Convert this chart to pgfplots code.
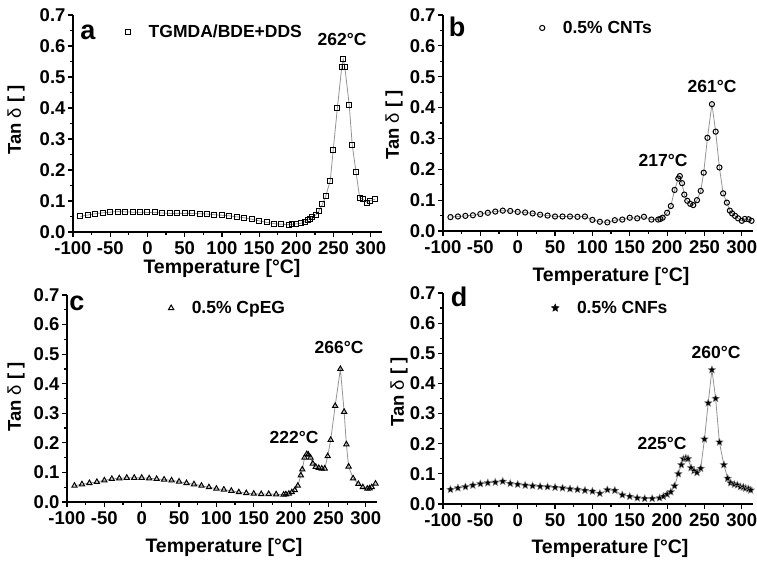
\documentclass[border=0pt]{standalone}
\usepackage{pgfplots}
\pgfplotsset{compat=1.18}
\usepackage{fontspec}
\setmainfont{Liberation Sans}
\usetikzlibrary{plotmarks}
\pgfdeclareplotmark{fstar}{%
  \pgfpathmoveto{\pgfpointpolar{90}{\pgfplotmarksize}}%
  \pgfpathlineto{\pgfpointpolar{126}{0.45\pgfplotmarksize}}%
  \pgfpathlineto{\pgfpointpolar{162}{\pgfplotmarksize}}%
  \pgfpathlineto{\pgfpointpolar{198}{0.45\pgfplotmarksize}}%
  \pgfpathlineto{\pgfpointpolar{234}{\pgfplotmarksize}}%
  \pgfpathlineto{\pgfpointpolar{270}{0.45\pgfplotmarksize}}%
  \pgfpathlineto{\pgfpointpolar{306}{\pgfplotmarksize}}%
  \pgfpathlineto{\pgfpointpolar{342}{0.45\pgfplotmarksize}}%
  \pgfpathlineto{\pgfpointpolar{18}{\pgfplotmarksize}}%
  \pgfpathlineto{\pgfpointpolar{54}{0.45\pgfplotmarksize}}%
  \pgfpathclose\pgfusepathqfillstroke}
\newcommand{\lbl}{\bfseries\fontsize{19.5}{19.5}\selectfont}
\newcommand{\ticklbl}{\bfseries\fontsize{18.5}{18.5}\selectfont}
\newcommand{\leglbl}{\bfseries\fontsize{17.5}{17.5}\selectfont}
\newcommand{\ylbl}{\bfseries\fontsize{18.5}{18.5}\selectfont}
\newcommand{\letterfont}{\bfseries\fontsize{27}{27}\selectfont}
\pgfplotsset{panel/.style={
  scale only axis, anchor=south west,
  xmin=-100, xmax=315, ymin=0, ymax=0.7,
  axis x line*=bottom, axis y line*=left,
  axis line style={line width=1.7pt, -},
  xtick={-100,-50,0,50,100,150,200,250,300},
  xticklabels={-100,-50,0,50,100,150,200,250,300},
  ytick={0,0.1,0.2,0.3,0.4,0.5,0.6,0.7},
  yticklabels={0.0,0.1,0.2,0.3,0.4,0.5,0.6,0.7},
  minor x tick num=1, minor y tick num=1,
  tick align=outside, major tick length=5pt, minor tick length=3pt,
  every tick/.style={line width=1.2pt, black},
  tick label style={font=\ticklbl},
  xticklabel style={yshift=-1pt},
  yticklabel style={xshift=1pt},
  clip=false,
  legend style={draw=none, fill=none, font=\leglbl, anchor=west, inner sep=0pt,
     /tikz/every odd column/.append style={column sep=16pt}},
  },
  curve/.style={gray!85, line width=0.8pt, mark options={black, solid, line width=1pt}},
}
\begin{document}
\begin{tikzpicture}[x=1pt,y=1pt]
\path[use as bounding box] (0,0) rectangle (757,560);
% ---------------- panel a
\begin{axis}[panel, at={(73pt,328pt)}, width=309pt, height=217pt,
  legend style={at={(0.17,0.92)}}]
\addlegendimage{only marks, mark=square, mark size=2.5pt, mark options={black, line width=1pt}}
\addlegendentry{TGMDA/BDE+DDS}
\addplot[curve, mark=square, mark size=2.5pt] coordinates {
(-90,0.050) (-80,0.055) (-70,0.059) (-60,0.062) (-50,0.064) (-40,0.066) (-30,0.065)
(-20,0.064) (-10,0.064) (0,0.063) (10,0.063) (20,0.061) (30,0.060) (40,0.060) (50,0.060)
(60,0.060) (70,0.059) (80,0.058) (90,0.056) (100,0.054) (110,0.052) (120,0.049) (130,0.046)
(140,0.041) (150,0.036) (160,0.031) (170,0.027) (180,0.025) (190,0.024) (194,0.025)
(199,0.026) (206,0.028) (211,0.033) (215.5,0.039) (218.5,0.042) (221.5,0.047) (226,0.055)
(230.5,0.069) (235,0.089) (239.5,0.116) (245.5,0.166) (249.5,0.265) (255,0.399) (261,0.533)
(263,0.557) (265,0.533) (271,0.410) (275,0.281) (280,0.195) (285,0.111) (289,0.106)
(295,0.095) (299,0.101) (306,0.106)};
\end{axis}
% ---------------- panel b
\begin{axis}[panel, at={(443pt,329pt)}, width=310pt, height=216pt,
  legend style={at={(0.311,0.94)}}]
\addlegendimage{only marks, mark=o, mark size=2.6pt, mark options={black, line width=1pt}}
\addlegendentry{0.5\% CNTs}
\addplot[curve, mark=o, mark size=2.6pt] coordinates {
(-90,0.045) (-80,0.047) (-70,0.049) (-60,0.051) (-50,0.055) (-40,0.059) (-30,0.063)
(-20,0.066) (-10,0.065) (0,0.062) (10,0.060) (20,0.057) (30,0.053) (40,0.050) (50,0.047)
(60,0.047) (70,0.047) (80,0.046) (90,0.047) (100,0.036) (110,0.030) (120,0.028) (130,0.035)
(140,0.037) (150,0.043) (160,0.041) (169,0.046) (179,0.037) (188,0.037) (191,0.039)
(194,0.043) (200,0.059) (205,0.081) (210,0.133) (215,0.170) (217,0.178) (220,0.155)
(223,0.118) (227,0.098) (231,0.088) (235,0.084) (240,0.100) (245,0.130) (249,0.189)
(254,0.302) (260,0.411) (265,0.322) (270,0.206) (275,0.122) (280,0.092) (284,0.066)
(287,0.057) (291,0.049) (295,0.041) (300,0.033) (304,0.039) (309,0.038) (313,0.033)};
\end{axis}
% ---------------- panel c
\begin{axis}[panel, at={(67pt,58pt)}, width=310pt, height=207pt,
  legend style={at={(0.327,0.937)}}]
\addlegendimage{only marks, mark=triangle, mark size=3pt, mark options={black, line width=1pt}}
\addlegendentry{0.5\% CpEG}
\addplot[curve, mark=triangle, mark size=3pt] coordinates {
(-90,0.055) (-80,0.060) (-70,0.064) (-60,0.068) (-50,0.073) (-40,0.078) (-30,0.080)
(-20,0.082) (-10,0.082) (0,0.082) (10,0.080) (20,0.078) (30,0.076) (40,0.073) (50,0.069)
(60,0.064) (70,0.060) (80,0.055) (90,0.050) (100,0.045) (110,0.042) (120,0.038) (130,0.033)
(140,0.030) (150,0.028) (160,0.027) (170,0.027) (180,0.026) (190,0.025) (193,0.026)
(197,0.028) (201,0.033) (205,0.040) (209,0.055) (213,0.090) (215,0.110) (218,0.150)
(221,0.162) (223,0.160) (226,0.150) (229,0.130) (233,0.119) (237,0.115) (241,0.113)
(245,0.113) (249,0.155) (253,0.210) (259,0.325) (266,0.450) (271,0.305) (274,0.195)
(277,0.120) (283,0.080) (290,0.061) (296,0.050) (302,0.045) (305,0.046) (308,0.050) (313,0.062)};
\end{axis}
% ---------------- panel d
\begin{axis}[panel, at={(443pt,56pt)}, width=310pt, height=211pt,
  legend style={at={(0.349,0.929)}}]
\addlegendimage{only marks, mark=fstar, mark size=4pt, mark options={black, fill=black, line width=0.4pt}}
\addlegendentry{0.5\% CNFs}
\addplot[curve, mark=fstar, mark size=4pt, mark options={fill=black, line width=0.4pt}] coordinates {
(-90,0.048) (-80,0.053) (-70,0.057) (-60,0.062) (-50,0.067) (-40,0.070) (-30,0.072)
(-20,0.075) (-10,0.068) (0,0.065) (10,0.062) (20,0.060) (30,0.058) (40,0.057) (50,0.055)
(60,0.053) (70,0.050) (80,0.048) (90,0.045) (100,0.042) (110,0.035) (120,0.047) (130,0.045)
(140,0.030) (150,0.025) (160,0.020) (170,0.018) (180,0.018) (190,0.020) (195,0.025)
(200,0.032) (205,0.040) (210,0.060) (215,0.100) (219,0.130) (222,0.150) (225,0.152)
(228,0.150) (232,0.120) (236,0.110) (240,0.104) (245,0.118) (250,0.215) (255,0.335)
(260,0.445) (265,0.350) (270,0.205) (276,0.130) (281,0.085) (285,0.070) (290,0.065)
(294,0.063) (298,0.057) (302,0.056) (305,0.052) (309,0.050) (312,0.046)};
\end{axis}
% ---------------- texts
\node[font=\letterfont] at (88,528) {a};
\node[font=\letterfont] at (457,533) {b};
\node[font=\letterfont] at (77,257) {c};
\node[font=\letterfont] at (459,263) {d};
\node[font=\leglbl] at (342,521) {262°C};
\node[font=\leglbl] at (712,474) {261°C};
\node[font=\leglbl] at (663,400) {217°C};
\node[font=\leglbl] at (339,213) {266°C};
\node[font=\leglbl] at (294,123) {222°C};
\node[font=\leglbl] at (716,208) {260°C};
\node[font=\leglbl] at (662,117) {225°C};
\node[font=\lbl] at (222,292) {Temperature [°C]};
\node[font=\lbl] at (611,284) {Temperature [°C]};
\node[font=\lbl] at (224,13) {Temperature [°C]};
\node[font=\lbl] at (610,12) {Temperature [°C]};
\node[font=\ylbl, rotate=90] at (16,440) {Tan {\mdseries δ} [ ]};
\node[font=\ylbl, rotate=90] at (394,435) {Tan {\mdseries δ} [ ]};
\node[font=\ylbl, rotate=90] at (16,163) {Tan {\mdseries δ} [ ]};
\node[font=\ylbl, rotate=90] at (399,168) {Tan {\mdseries δ} [ ]};
\end{tikzpicture}
\end{document}
